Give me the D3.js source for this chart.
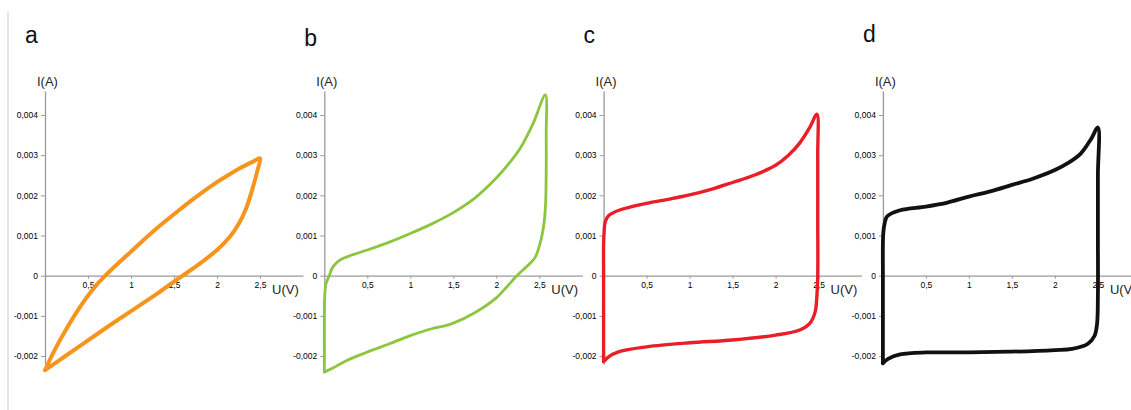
<!DOCTYPE html>
<html>
<head>
<meta charset="utf-8">
<script src="https://cdn.jsdelivr.net/npm/d3@7"></script>
<style>
  html, body { margin: 0; padding: 0; background: #fff; }
  svg { display: block; font-family: "Liberation Sans", Arial, sans-serif; }
</style>
</head>
<body>
<svg id="chart" width="1131" height="410"></svg>
<script>
// ---- data (U in volts, I in amperes) ----
const panelLetters = ["a", "b", "c", "d"];
const panelColors = ["#F7941D", "#8CC63E", "#E91E27", "#111111"];
const xTicks = [0.5, 1, 1.5, 2, 2.5];
const yTicks = [-0.002, -0.001, 0, 0.001, 0.002, 0.003, 0.004];

const aU = [0, 0.1, 0.25, 0.41, 0.56, 0.70, 1.0, 1.3, 1.5, 1.7, 2.0, 2.15, 2.27, 2.42, 2.5,
            2.47, 2.42, 2.34, 2.25, 2.15, 2.0, 1.8, 1.62, 1.5, 1.3, 1.0, 0.75, 0.5, 0.25, 0];
const aI = [-0.00235, -0.0019, -0.00132, -0.00077, -0.00033, 0, 0.0006, 0.00118, 0.00153, 0.00187, 0.00233, 0.00253, 0.00268, 0.00284, 0.00292,
            0.00262, 0.00222, 0.00168, 0.00128, 0.00097, 0.00064, 0.0003, 0.00003, -0.00015, -0.00045, -0.00088, -0.00124, -0.00161, -0.00198, -0.00235];

const bU = [0, 0, 0, 0.005, 0.02, 0.058, 0.1, 0.18, 0.3, 0.5, 0.75, 1.0, 1.25, 1.5, 1.75, 2.0, 2.15, 2.28, 2.43, 2.57,
            2.58, 2.58, 2.575, 2.56, 2.52, 2.45, 2.36, 2.24, 2.1, 2.0, 1.75, 1.5, 1.4, 1.25, 1.0, 0.75, 0.5, 0.25, 0.1, 0];
const bI = [-0.0024, -0.0018, -0.001, -0.0005, -0.0002, 0, 0.00022, 0.00039, 0.0005, 0.00064, 0.00083, 0.00105, 0.00129, 0.00157, 0.00193, 0.00243, 0.0028, 0.00318, 0.0038, 0.0045,
            0.0035, 0.0026, 0.0019, 0.0014, 0.0009, 0.00045, 0.00024, 0, -0.00033, -0.00055, -0.00092, -0.00118, -0.00125, -0.00132, -0.00149, -0.0017, -0.0019, -0.00212, -0.0023, -0.0024];

const cU = [0, 0, 0, 0, 0.005, 0.02, 0.06, 0.18, 0.5, 0.75, 1.0, 1.25, 1.5, 1.75, 2.0, 2.15, 2.28, 2.4, 2.48,
            2.49, 2.49, 2.49, 2.48, 2.46, 2.4, 2.28, 2.0, 1.5, 1.0, 0.5, 0.18, 0.05, 0];
const cI = [-0.00214, -0.001, 0, 0.0008, 0.00105, 0.00135, 0.0015, 0.00163, 0.0018, 0.0019, 0.00201, 0.00215, 0.00232, 0.0025, 0.00275, 0.003, 0.0033, 0.0037, 0.00402,
            0.003, 0.0015, 0, -0.0005, -0.0009, -0.00118, -0.00135, -0.00148, -0.0016, -0.00167, -0.00177, -0.00189, -0.00203, -0.00214];

const dU = [0, 0, 0, 0, 0.005, 0.02, 0.05, 0.2, 0.5, 0.75, 1.0, 1.25, 1.5, 1.75, 2.0, 2.15, 2.3, 2.42, 2.5,
            2.5, 2.5, 2.5, 2.49, 2.46, 2.38, 2.2, 2.0, 1.5, 1.0, 0.5, 0.2, 0.06, 0];
const dI = [-0.00218, -0.001, 0, 0.0008, 0.00108, 0.0013, 0.00148, 0.00163, 0.00172, 0.00182, 0.00197, 0.0021, 0.00226, 0.00242, 0.00263, 0.0028, 0.00304, 0.0034, 0.00369,
            0.0025, 0.001, -0.0005, -0.0012, -0.0015, -0.0017, -0.00182, -0.00185, -0.00189, -0.00191, -0.00191, -0.00196, -0.00207, -0.00218];

const seriesU = [aU, bU, cU, dU];
const seriesI = [aI, bI, cI, dI];

// ---- layout ----
const svg = d3.select("#chart");
const W = 1131, H = 410;
const firstLeft = 45, panelStep = 279.3, plotW = 258;
const strokeWidths = [4, 2.8, 3.4, 3.8];
const letterY = [43, 46, 43, 42];

const locale = d3.formatLocale({decimal: ",", thousands: ".", grouping: [3], currency: ["", ""], minus: "-"});
const fy = v => v === 0 ? "0" : locale.format(".3f")(v);
const fx = v => locale.format("")(v);

// faint frame line on the far left
svg.append("line").attr("x1", 8).attr("x2", 8).attr("y1", 12).attr("y2", H)
  .attr("stroke", "#dcdcdc").attr("stroke-width", 1.5);

const y = d3.scaleLinear().domain([-0.0022, 0.0046]).range([364.1, 90.9]);

panelLetters.forEach((letter, i) => {
  const x0 = firstLeft + i * panelStep;
  const x = d3.scaleLinear().domain([0, 3]).range([x0, x0 + plotW]);
  const g = svg.append("g");

  // y axis
  const ya = g.append("g").attr("transform", `translate(${x0},0)`)
    .call(d3.axisLeft(y).tickValues(yTicks).tickFormat(fy).tickSizeInner(4).tickSizeOuter(0).tickPadding(3));
  // x axis
  const xa = g.append("g").attr("transform", `translate(0,${y(0)})`)
    .call(d3.axisBottom(x).tickValues(xTicks).tickFormat(fx).tickSizeInner(3).tickSizeOuter(0).tickPadding(3));

  [ya, xa].forEach(ax => {
    ax.select(".domain").attr("stroke", "#9a9a9a").attr("stroke-width", 1.3);
    ax.selectAll(".tick line").attr("stroke", "#9a9a9a").attr("stroke-width", 1);
    ax.selectAll(".tick text").attr("fill", "#000").attr("font-size", 8.5)
      .attr("font-family", "'Liberation Sans', Arial, sans-serif");
  });

  // axis titles
  g.append("text").attr("x", x0 - 8).attr("y", 86).attr("font-size", 13).attr("fill", "#222").text("I(A)");
  g.append("text").attr("x", x0 + 227).attr("y", 294).attr("font-size", 13).attr("fill", "#222").text("U(V)");

  // panel letter
  g.append("text").attr("x", x0 - 20).attr("y", letterY[i]).attr("font-size", 23).attr("fill", "#111").text(letter);

  // curve
  const pts = seriesU[i].map((u, k) => [u, seriesI[i][k]]);
  const line = d3.line().x(d => x(d[0])).y(d => y(d[1])).curve(d3.curveCatmullRom.alpha(0.5));
  g.append("path").datum(pts).attr("d", line)
    .attr("fill", "none").attr("stroke", panelColors[i]).attr("stroke-width", strokeWidths[i])
    .attr("stroke-linejoin", "round").attr("stroke-linecap", "round");
});
</script>
</body>
</html>
